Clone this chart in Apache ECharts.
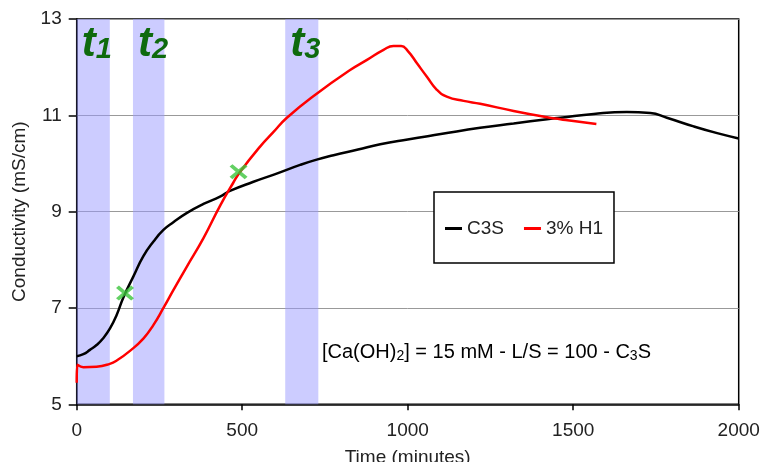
<!DOCTYPE html>
<html><head><meta charset="utf-8">
<script src="https://cdn.jsdelivr.net/npm/echarts@6/dist/echarts.min.js"></script>
<style>html,body{margin:0;padding:0;background:#fff}#c{width:762px;height:462px}</style>
</head><body><div id="c"></div>
<script>
// ---- data ----
const c3sTime = [0,20,40,60,80,101,121,141,171,201,232,262,292,332,383,433,463,534,600,675,725,776,850,917,1000,1100,1219,1320,1421,1461,1562,1662,1733,1783,1864,1935,2000];
const c3sCond = [6.0,6.04,6.13,6.23,6.37,6.58,6.86,7.22,7.65,8.07,8.38,8.62,8.78,8.97,9.16,9.31,9.43,9.62,9.78,9.97,10.08,10.17,10.29,10.4,10.5,10.61,10.74,10.83,10.92,10.95,11.03,11.07,11.05,10.95,10.77,10.63,10.52];
const h1Time = [0,2,20,60,100,121,161,202,232,262,292,332,383,433,473,494,554,594,635,725,826,877,927,957,980,1000,1028,1058,1088,1118,1169,1219,1320,1421,1461,1501,1570];
const h1Cond = [5.45,5.82,5.77,5.78,5.84,5.91,6.11,6.37,6.65,7.0,7.37,7.85,8.45,9.12,9.6,9.83,10.35,10.65,10.95,11.45,11.94,12.15,12.36,12.44,12.44,12.34,12.08,11.8,11.53,11.39,11.3,11.24,11.09,10.96,10.92,10.88,10.82];
const crossTime = [146, 489];
const crossCond = [7.31, 9.83];
const bandStart = [0, 170, 630];
const bandEnd = [100, 265, 730];
const bandLabels = ['1', '2', '3'];
const seriesNames = ['C3S', '3% H1'];
const xTicks = [0, 500, 1000, 1500, 2000];
const yTicks = [5, 7, 9, 11, 13];

const font = '"Liberation Sans", Arial, Helvetica, sans-serif';
const pairs = (xs, ys) => xs.map((x, i) => [x, ys[i]]);

const chart = echarts.init(document.getElementById('c'), null, {renderer: 'canvas'});
const option = {
  backgroundColor: '#fff',
  animation: false,
  textStyle: {fontFamily: font},
  grid: {left: 76.7, right: 23.3, top: 19, bottom: 57.7, containLabel: false, outerBoundsMode: 'none',
         show: true, borderColor: '#000', borderWidth: 1.5, backgroundColor: 'transparent'},
  legend: {
    data: seriesNames,
    left: 434, top: 192,
    padding: [27, 11, 25, 11],
    backgroundColor: '#fff', borderColor: '#000', borderWidth: 1.5, borderRadius: 0,
    icon: 'rect', itemWidth: 17, itemHeight: 3, itemGap: 20,
    textStyle: {fontSize: 19, color: '#222', fontFamily: font},
    selectedMode: false
  },
  xAxis: {
    type: 'value', min: xTicks[0], max: xTicks[xTicks.length - 1], interval: 500,
    name: 'Time (minutes)', nameLocation: 'middle', nameGap: 44,
    nameTextStyle: {fontSize: 19, color: '#222', fontFamily: font},
    axisLine: {lineStyle: {color: '#000', width: 1.5}},
    axisTick: {show: true, length: 6, lineStyle: {color: '#000', width: 1.5}},
    axisLabel: {fontSize: 19, color: '#222', margin: 17, fontFamily: font, formatter: v => String(v)},
    splitLine: {show: false}
  },
  yAxis: {
    type: 'value', min: yTicks[0], max: yTicks[yTicks.length - 1], interval: 2,
    name: 'Conductivity (mS/cm)', nameLocation: 'middle', nameGap: 46,
    nameTextStyle: {fontSize: 19, color: '#222', fontFamily: font},
    axisLine: {show: true, lineStyle: {color: '#000', width: 1.5}},
    axisTick: {show: true, length: 8, lineStyle: {color: '#000', width: 1.5}},
    axisLabel: {fontSize: 19, color: '#222', margin: 15, fontFamily: font, formatter: v => String(v)},
    splitLine: {show: true, lineStyle: {color: '#999', width: 1}}
  },
  series: [
    {
      name: seriesNames[0], type: 'line', data: pairs(c3sTime, c3sCond),
      showSymbol: false, smooth: 0.5,
      lineStyle: {color: '#000', width: 2.5}, itemStyle: {color: '#000'},
      z: 3,
      markArea: {
        silent: true,
        itemStyle: {color: 'rgba(153,153,255,0.5)'},
        label: {
          show: true, position: 'insideTopLeft', distance: 0, offset: [5, 5],
          rich: {
            t: {fontSize: 42, fontWeight: 'bold', fontStyle: 'italic', color: '#0e6a0e', lineHeight: 40, fontFamily: font},
            s: {fontSize: 29, fontWeight: 'bold', fontStyle: 'italic', color: '#0e6a0e', lineHeight: 3, verticalAlign: 'bottom', fontFamily: font}
          }
        },
        data: bandStart.map((b, i) => [
          {xAxis: b, label: {formatter: '{t|t}{s|' + bandLabels[i] + '}'}},
          {xAxis: bandEnd[i]}
        ])
      }
    },
    {
      name: seriesNames[1], type: 'line', data: pairs(h1Time, h1Cond),
      showSymbol: false, smooth: 0.5,
      lineStyle: {color: '#ff0000', width: 2.5}, itemStyle: {color: '#ff0000'},
      z: 3
    },
    {
      name: 'cross', type: 'scatter', data: pairs(crossTime, crossCond),
      symbol: 'path://M0,1.6L1.6,0L5,3.4L8.4,0L10,1.6L6.6,5L10,8.4L8.4,10L5,6.6L1.6,10L0,8.4L3.4,5Z',
      symbolSize: [18, 15], itemStyle: {color: '#3cc43c'}, z: 4, silent: true
    }
  ],
  graphic: [{
    type: 'text', left: 322, top: 342, z: 10,
    style: {
      text: '{n|[Ca(OH)}{s|2}{n|] = 15 mM - L/S = 100 - C}{s|3}{n|S}',
      rich: {
        n: {fontSize: 20, color: '#222', lineHeight: 22, fontFamily: font},
        s: {fontSize: 14, color: '#222', lineHeight: 10, verticalAlign: 'bottom', fontFamily: font}
      }
    }
  }]
};
chart.setOption(option);
</script>
</body></html>
